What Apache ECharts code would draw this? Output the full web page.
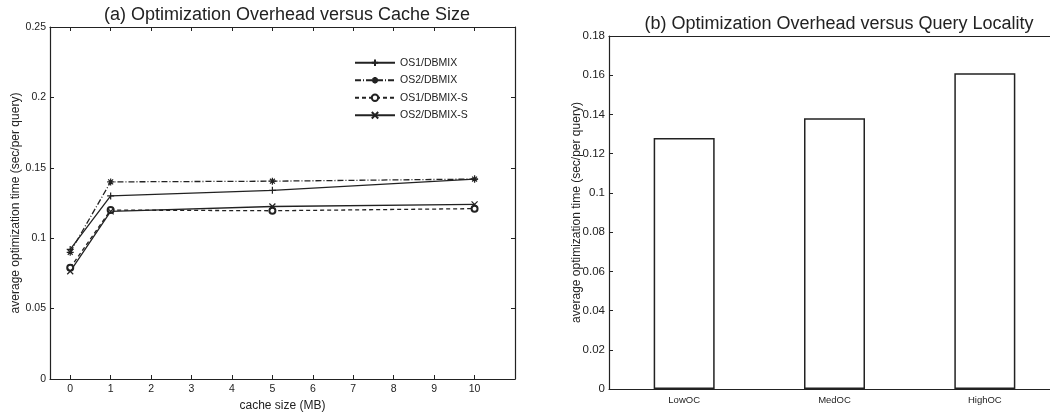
<!DOCTYPE html>
<html>
<head>
<meta charset="utf-8">
<script src="https://cdn.jsdelivr.net/npm/echarts@6/dist/echarts.min.js"></script>
<style>
  html, body { margin: 0; padding: 0; background: #fff; }
  #chart { width: 1050px; height: 412px; }
</style>
</head>
<body>
<div id="chart"></div>
<script>
// (a) optimization time vs cache size
const cacheSizes = [0, 1, 5, 10];
const os1Dbmix  = [0.092, 0.130, 0.134, 0.142];
const os2Dbmix  = [0.090, 0.140, 0.1405, 0.142];
const os1DbmixS = [0.079, 0.120, 0.1195, 0.121];
const os2DbmixS = [0.0765, 0.119, 0.1225, 0.124];
const cacheTicks = [0, 1, 2, 3, 4, 5, 6, 7, 8, 9, 10];

// (b) optimization time vs query locality
const localityCats = ['LowOC', 'MedOC', 'HighOC'];
const localityTimes = [0.128, 0.138, 0.161];

const INK = '#222';
const FONT = '"Liberation Sans", Arial, sans-serif';

const pair = (xs, ys) => xs.map((x, i) => [x, ys[i]]);

const SYM_PLUS  = 'path://M0,5L10,5M5,0L5,10';
const SYM_STAR  = 'path://M5,0L5,10M0,5L10,5M1.5,1.5L8.5,8.5M8.5,1.5L1.5,8.5';
const SYM_CROSS = 'path://M0,0L10,10M10,0L0,10';

function lineSeries(name, ys, symbol, type, size) {
  return {
    name, type: 'line', xAxisIndex: 0, yAxisIndex: 0,
    data: pair(cacheSizes, ys),
    symbol, symbolSize: size,
    lineStyle: { color: INK, width: 1.3, type },
    itemStyle: { color: INK, borderColor: INK, borderWidth: 1.2 },
    emphasis: { disabled: true },
    animation: false
  };
}

const inTick = { show: true, inside: true, length: 4, lineStyle: { color: INK, width: 1 } };
const axLine = { show: true, onZero: false, lineStyle: { color: INK, width: 1.2 } };
const tickLbl = { color: INK, fontFamily: FONT, fontSize: 10.5 };
const nameStyle = { fontFamily: FONT, fontSize: 12, color: INK };

const option = {
  backgroundColor: '#fff',
  animation: false,
  title: [
    { text: '(a) Optimization Overhead versus Cache Size', left: 282, top: 1, textAlign: 'center',
      textStyle: { fontFamily: FONT, fontSize: 18, fontWeight: 'normal', color: INK } },
    { text: '(b) Optimization Overhead versus Query Locality', left: 834, top: 10, textAlign: 'center',
      textStyle: { fontFamily: FONT, fontSize: 18, fontWeight: 'normal', color: INK } }
  ],
  legend: {
    left: 349, top: 52, orient: 'vertical',
    itemWidth: 40, itemHeight: 8, itemGap: 6,
    textStyle: { fontFamily: FONT, fontSize: 10.5, color: INK, lineHeight: 11.5 },
    data: ['OS1/DBMIX', 'OS2/DBMIX', 'OS1/DBMIX-S', 'OS2/DBMIX-S']
  },
  grid: [
    { left: 50, top: 27, width: 465, height: 352, outerBoundsMode: 'none' },
    { left: 609, top: 36, width: 451, height: 353, outerBoundsMode: 'none' }
  ],
  xAxis: [
    { gridIndex: 0, type: 'value', min: -0.5, max: 11, position: 'bottom',
      name: 'cache size (MB)', nameLocation: 'middle', nameGap: 17,
      nameTextStyle: nameStyle,
      axisLine: axLine, splitLine: { show: false },
      axisTick: Object.assign({}, inTick, { customValues: cacheTicks }),
      axisLabel: Object.assign({}, tickLbl, { margin: 5, customValues: cacheTicks }) },
    { gridIndex: 0, type: 'value', min: -0.5, max: 11, position: 'top',
      axisLine: axLine, splitLine: { show: false },
      axisTick: Object.assign({}, inTick, { customValues: cacheTicks }),
      axisLabel: { show: false } },
    { gridIndex: 1, type: 'category', data: localityCats, position: 'bottom',
      axisLine: axLine, splitLine: { show: false },
      axisTick: Object.assign({}, inTick, { alignWithLabel: true }),
      axisLabel: Object.assign({}, tickLbl, { fontSize: 9.5, margin: 6 }) },
    { gridIndex: 1, type: 'category', data: localityCats, position: 'top',
      axisLine: axLine, splitLine: { show: false },
      axisTick: { show: false }, axisLabel: { show: false } }
  ],
  yAxis: [
    { gridIndex: 0, type: 'value', min: 0, max: 0.25, interval: 0.05, position: 'left',
      name: 'average optimization time (sec/per query)', nameLocation: 'middle', nameGap: 28,
      nameMoveOverlap: false,
      nameTextStyle: nameStyle,
      axisLine: axLine, axisTick: inTick, splitLine: { show: false },
      axisLabel: Object.assign({}, tickLbl, { margin: 4 }) },
    { gridIndex: 0, type: 'value', min: 0, max: 0.25, interval: 0.05, position: 'right',
      axisLine: axLine, axisTick: inTick, splitLine: { show: false },
      axisLabel: { show: false } },
    { gridIndex: 1, type: 'value', min: 0, max: 0.18, interval: 0.02, position: 'left',
      name: 'average optimization time (sec/per query)', nameLocation: 'middle', nameGap: 26,
      nameMoveOverlap: false,
      nameTextStyle: nameStyle,
      axisLine: axLine, axisTick: inTick, splitLine: { show: false },
      axisLabel: Object.assign({}, tickLbl, { fontSize: 11.5, margin: 4 }) }
  ],
  series: [
    lineSeries('OS1/DBMIX', os1Dbmix, SYM_PLUS, 'solid', 7),
    lineSeries('OS2/DBMIX', os2Dbmix, SYM_STAR, [6, 2, 1, 2], 7),
    lineSeries('OS1/DBMIX-S', os1DbmixS, 'emptyCircle', [4, 3], 6),
    lineSeries('OS2/DBMIX-S', os2DbmixS, SYM_CROSS, 'solid', 6),
    {
      name: 'locality', type: 'bar', xAxisIndex: 2, yAxisIndex: 2,
      data: localityTimes, barWidth: 61,
      itemStyle: { color: '#fff', borderColor: INK, borderWidth: 1.5 },
      emphasis: { disabled: true }
    }
  ]
};

const chart = echarts.init(document.getElementById('chart'), null, { renderer: 'canvas' });
chart.setOption(option);
</script>
</body>
</html>
